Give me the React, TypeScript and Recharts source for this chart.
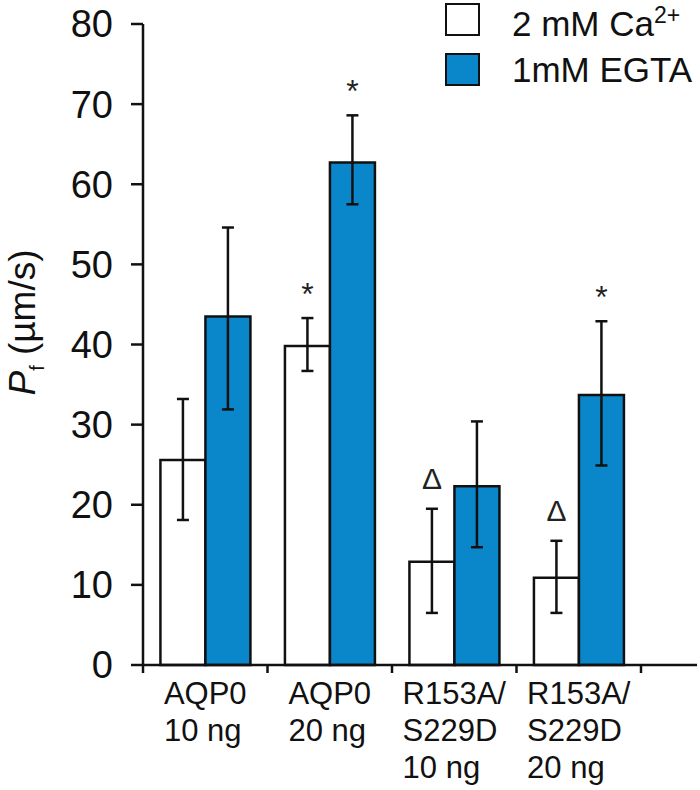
import React from 'react';
import { BarChart, Bar, XAxis, YAxis, ErrorBar, LabelList, Legend } from 'recharts';

// group labels, one entry per text line
const groupLines = [
  ['AQP0', '10 ng'],
  ['AQP0', '20 ng'],
  ['R153A/', 'S229D', '10 ng'],
  ['R153A/', 'S229D', '20 ng'],
];

// 2 mM Ca2+ (white)
const caMean = [25.6, 39.8, 12.9, 10.9];
const caHigh = [33.2, 43.3, 19.5, 15.5];
const caLow = [18.1, 36.7, 6.5, 6.5];
const caMarks = ['', '*', 'Δ', 'Δ'];

// 1mM EGTA (blue)
const egtaMean = [43.5, 62.7, 22.3, 33.7];
const egtaHigh = [54.6, 68.6, 30.4, 42.9];
const egtaLow = [31.9, 57.5, 14.7, 24.9];
const egtaMarks = ['', '*', '', '*'];

const yTicks = [0, 10, 20, 30, 40, 50, 60, 70, 80];

const BLUE = '#0a86cb';
const FONT = '"Liberation Sans", Arial, sans-serif';

const data = groupLines.map((lines, i) => ({
  name: lines.join(' '),
  ca: caMean[i],
  caErr: [caMean[i] - caLow[i], caHigh[i] - caMean[i]],
  caMark: caMarks[i],
  egta: egtaMean[i],
  egtaErr: [egtaMean[i] - egtaLow[i], egtaHigh[i] - egtaMean[i]],
  egtaMark: egtaMarks[i],
}));

let ctx: any = null;
const textWidth = (s: string, size: number) => {
  if (!ctx) ctx = document.createElement('canvas').getContext('2d');
  ctx.font = `${size}px "Liberation Sans"`;
  return ctx.measureText(s).width;
};

// label block + tick marks on the category boundaries
const GroupTick = ({ x, y, index, payload, visibleTicksCount }: any) => {
  const lines = groupLines[index] || [];
  const w = Math.max(...lines.map((l) => textWidth(l, 31)));
  const left = x - w / 2;
  const half = payload && payload.offset ? payload.offset : 0;
  const last = index === (visibleTicksCount || groupLines.length) - 1;
  return (
    <g>
      <line x1={x - half} x2={x - half} y1={y} y2={y + 8} stroke="#111" strokeWidth={2.5} />
      {last && <line x1={x + half} x2={x + half} y1={y} y2={y + 8} stroke="#111" strokeWidth={2.5} />}
      <text x={left} y={y} fontSize={31} fontFamily={FONT} fill="#111" textAnchor="start">
        {lines.map((l, k) => (
          <tspan key={k} x={left} dy={k === 0 ? 39 : 37}>
            {l}
          </tspan>
        ))}
      </text>
    </g>
  );
};

// mark drawn above the top of the error bar
const makeMark = (means: number[], tops: number[], marks: string[]) => (props: any) => {
  const { x, y, width, height, index } = props;
  const mark = marks[index];
  if (!mark) return null;
  const pxPerUnit = height / means[index];
  const errTop = y - (tops[index] - means[index]) * pxPerUnit;
  const isStar = mark === '*';
  return (
    <text
      x={x + width / 2}
      y={errTop - (isStar ? 13 : 20)}
      textAnchor="middle"
      fontSize={isStar ? 32 : 30}
      fontFamily={FONT}
      fill="#222"
    >
      {mark}
    </text>
  );
};

const YLabel = ({ viewBox }: any) => {
  const cx = viewBox.x + 35;
  const cy = viewBox.y + viewBox.height / 2 - 22;
  return (
    <text
      x={cx}
      y={cy}
      transform={`rotate(-90, ${cx}, ${cy})`}
      textAnchor="middle"
      fontSize={37}
      fontFamily={FONT}
      fill="#111"
    >
      <tspan fontStyle="italic">P</tspan>
      <tspan fontSize={20} dy={9}>f</tspan>
      <tspan dy={-9}>{'  (µm/s)'}</tspan>
    </text>
  );
};

const LegendBox = () => (
  <div style={{ fontFamily: FONT, fontSize: 35, color: '#111' }}>
    {[
      { label: <>2 mM Ca<sup style={{ fontSize: 23 }}>2+</sup></>, fill: '#fff' },
      { label: <>1mM EGTA</>, fill: BLUE },
    ].map((item, i) => (
      <div key={i} style={{ display: 'flex', alignItems: 'center', height: 50 }}>
        <span
          style={{
            display: 'inline-block',
            width: 31,
            height: 29,
            background: item.fill,
            border: '2.5px solid #111',
            marginRight: 32,
          }}
        />
        <span style={{ whiteSpace: 'nowrap', lineHeight: '35px' }}>{item.label}</span>
      </div>
    ))}
  </div>
);

export default function App() {
  return (
    <div style={{ position: 'absolute', left: 0, top: 0, background: '#fff' }}>
      <BarChart
        width={700}
        height={790}
        data={data}
        margin={{ top: 24, right: 3, left: 0, bottom: 0 }}
        barCategoryGap="14%"
        barGap={0}
      >
        <XAxis
          dataKey="name"
          height={125}
          padding={{ left: 0, right: 56 }}
          axisLine={{ stroke: '#111', strokeWidth: 2.5 }}
          tickLine={false}
          tickSize={0}
          tickMargin={0}
          interval={0}
          tick={<GroupTick />}
        />
        <YAxis
          width={143}
          domain={[0, 80]}
          ticks={yTicks}
          interval={0}
          tickSize={12}
          tickMargin={18}
          tick={{ fontSize: 38, fontFamily: FONT, fill: '#111' }}
          axisLine={{ stroke: '#111', strokeWidth: 2.5 }}
          tickLine={{ stroke: '#111', strokeWidth: 2.5 }}
          label={{ content: <YLabel /> }}
        />
        <Legend
          layout="vertical"
          align="center"
          verticalAlign="middle"
          content={<LegendBox />}
          wrapperStyle={{ top: -6, left: 445, width: 260, height: 100 }}
        />
        <Bar
          dataKey="ca"
          name="2 mM Ca2+"
          fill="#fff"
          stroke="#111"
          strokeWidth={2.5}
          isAnimationActive={false}
        >
          <ErrorBar dataKey="caErr" width={6} stroke="#111" strokeWidth={2.5} isAnimationActive={false} />
          <LabelList dataKey="caMark" content={makeMark(caMean, caHigh, caMarks)} />
        </Bar>
        <Bar
          dataKey="egta"
          name="1mM EGTA"
          fill={BLUE}
          stroke="#111"
          strokeWidth={2.5}
          isAnimationActive={false}
        >
          <ErrorBar dataKey="egtaErr" width={6} stroke="#111" strokeWidth={2.5} isAnimationActive={false} />
          <LabelList dataKey="egtaMark" content={makeMark(egtaMean, egtaHigh, egtaMarks)} />
        </Bar>
      </BarChart>
    </div>
  );
}
